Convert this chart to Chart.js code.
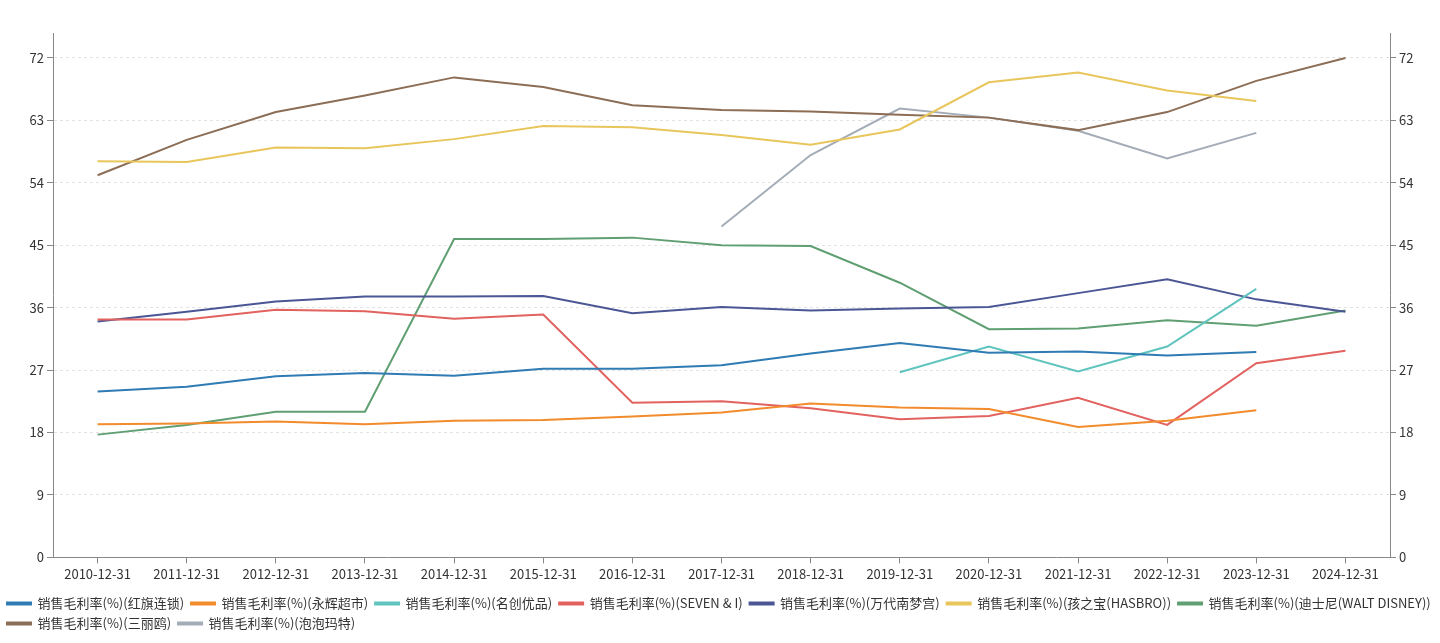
<!DOCTYPE html>
<html>
<head>
<meta charset="utf-8">
<script src="https://cdn.jsdelivr.net/npm/chart.js@4.4.1/dist/chart.umd.min.js"></script>
<style>
  html, body { margin: 0; padding: 0; background: #fff; }
  #wrap { width: 1440px; height: 643px; }
</style>
</head>
<body>
<div id="wrap"><canvas id="c"></canvas></div>
<script>
const years = [
  '2010-12-31', '2011-12-31', '2012-12-31', '2013-12-31', '2014-12-31',
  '2015-12-31', '2016-12-31', '2017-12-31', '2018-12-31', '2019-12-31',
  '2020-12-31', '2021-12-31', '2022-12-31', '2023-12-31', '2024-12-31',
];

const yTicks = [0, 9, 18, 27, 36, 45, 54, 63, 72];

// 销售毛利率(%) per company
const hongqi = [23.9, 24.6, 26.1, 26.6, 26.2, 27.2, 27.2, 27.7, 29.4, 30.9, 29.5, 29.7, 29.1, 29.6, null];
const yonghui = [19.2, 19.3, 19.6, 19.2, 19.7, 19.8, 20.3, 20.9, 22.2, 21.6, 21.4, 18.8, 19.7, 21.2, null];
const miniso = [null, null, null, null, null, null, null, null, null, 26.7, 30.4, 26.8, 30.4, 38.7, null];
const sevenI = [34.3, 34.3, 35.7, 35.5, 34.4, 35.0, 22.3, 22.5, 21.5, 19.9, 20.4, 23.0, 19.1, 28.0, 29.8];
const bandai = [34.0, 35.4, 36.9, 37.6, 37.6, 37.7, 35.2, 36.1, 35.6, 35.9, 36.1, 38.1, 40.1, 37.2, 35.4];
const hasbro = [57.1, 57.0, 59.1, 59.0, 60.3, 62.2, 62.0, 60.9, 59.5, 61.7, 68.5, 69.9, 67.3, 65.8, null];
const disney = [17.7, 19.1, 21.0, 21.0, 45.9, 45.9, 46.1, 45.0, 44.9, 39.6, 32.9, 33.0, 34.2, 33.4, 35.6];
const sanrio = [55.1, 60.2, 64.2, 66.6, 69.2, 67.8, 65.2, 64.5, 64.3, 63.8, 63.4, 61.6, 64.2, 68.7, 72.0];
const popmart = [null, null, null, null, null, null, null, 47.7, 58.0, 64.7, 63.4, 61.5, 57.5, 61.2, null];

const seriesNames = [
  '销售毛利率(%)(红旗连锁)',
  '销售毛利率(%)(永辉超市)',
  '销售毛利率(%)(名创优品)',
  '销售毛利率(%)(SEVEN & I)',
  '销售毛利率(%)(万代南梦宫)',
  '销售毛利率(%)(孩之宝(HASBRO))',
  '销售毛利率(%)(迪士尼(WALT DISNEY))',
  '销售毛利率(%)(三丽鸥)',
  '销售毛利率(%)(泡泡玛特)',
];
const seriesData = [hongqi, yonghui, miniso, sevenI, bandai, hasbro, disney, sanrio, popmart];
const seriesColors = [
  '#2f7bb3', '#f28b2c', '#5fc4bd', '#e2625f', '#4b5694',
  '#e8c65c', '#5f9f72', '#8c6d55', '#a4acb7',
];

const FONT = '"Noto Sans CJK SC", "Noto Sans", sans-serif';

const datasets = seriesData.map((values, i) => ({
  label: seriesNames[i],
  data: values,
  borderColor: seriesColors[i],
  backgroundColor: seriesColors[i],
  borderWidth: 2,
  pointRadius: 0,
  pointHoverRadius: 0,
  tension: 0,
  spanGaps: false,
  yAxisID: 'y',
}));

// y axis shared config (left and right are identical)
const yAxis = (position, width) => ({
  position: position,
  min: 0,
  max: 75.6,
  afterBuildTicks: (scale) => {
    scale.ticks = yTicks.map((v) => ({ value: v }));
  },
  afterFit: (scale) => {
    scale.width = width;
  },
  ticks: {
    color: '#333',
    font: { family: FONT, size: 13 },
    padding: 3,
  },
  grid: {
    drawOnChartArea: position === 'left',
    color: '#e3e3e3',
    tickColor: '#888',
    tickLength: 6,
    tickBorderDash: [],
  },
  border: { color: '#888', width: 1, dash: [3, 3] },
});

// more room between the x labels and the legend rows
const legendGap = {
  id: 'legendGap',
  beforeInit(chart) {
    const fit = chart.legend.fit;
    chart.legend.fit = function () {
      fit.bind(chart.legend)();
      this.height += 8;
    };
  },
  afterLayout(chart) {
    chart.legend.top += 5;
    chart.legend.bottom += 5;
  },
};

new Chart(document.getElementById('c'), {
  type: 'line',
  data: { labels: years, datasets: datasets },
  options: {
    responsive: true,
    maintainAspectRatio: false,
    animation: false,
    layout: { padding: { top: 33, left: 0, right: 0, bottom: 0 } },
    plugins: {
      tooltip: { enabled: false },
      legend: {
        position: 'bottom',
        align: 'start',
        labels: {
          boxWidth: 24,
          boxHeight: 2,
          padding: 7,
          color: '#333',
          font: { family: FONT, size: 13 },
        },
      },
    },
    scales: {
      x: {
        offset: true,
        ticks: {
          color: '#333',
          font: { family: FONT, size: 13 },
          maxRotation: 0,
          autoSkip: false,
          padding: 3,
        },
        grid: {
          drawOnChartArea: false,
          offset: false,
          tickColor: '#888',
          tickLength: 6,
        },
        border: { color: '#888', width: 1 },
      },
      y: yAxis('left', 53),
      y1: yAxis('right', 50),
    },
  },
  plugins: [legendGap],
});
</script>
</body>
</html>
